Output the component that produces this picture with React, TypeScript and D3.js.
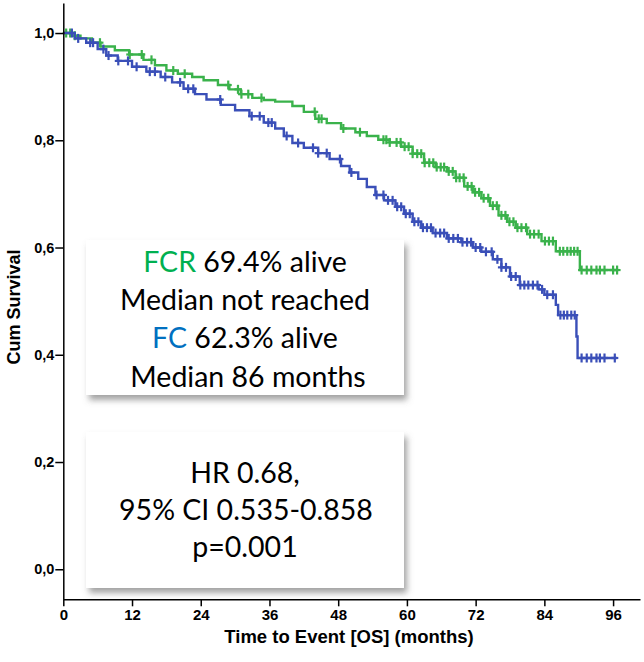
import { useEffect, useRef } from 'react'
import * as d3 from 'd3'

// Kaplan-Meier steps: time (months) -> survival after that time
const fcrTimes = [0, 1.5, 3, 5, 6.5, 9, 11.5, 14, 16, 18, 20, 22.5, 24.5, 27, 29, 31, 33, 35, 37, 40, 42, 44, 46, 48.5, 51, 53, 55, 57, 59, 61, 63, 65, 67, 68.5, 70, 71.5, 73, 74.5, 76, 77.5, 79, 81, 83.5, 86, 90.2]
const fcrSurv = [1.0, 0.995, 0.99, 0.982, 0.975, 0.968, 0.96, 0.95, 0.94, 0.93, 0.924, 0.918, 0.912, 0.903, 0.895, 0.886, 0.879, 0.875, 0.872, 0.864, 0.853, 0.84, 0.832, 0.822, 0.815, 0.808, 0.801, 0.796, 0.788, 0.775, 0.758, 0.75, 0.742, 0.73, 0.714, 0.703, 0.692, 0.678, 0.66, 0.648, 0.637, 0.625, 0.612, 0.593, 0.558]
const fcrEnd = 96.9
const fcrCensor = [0.5, 1.2, 2.0, 6.4, 11.6, 13.7, 15.4, 19.2, 21.2, 28.8, 30.5, 31.1, 32.3, 34.6, 43.9, 44.6, 45.1, 48.9, 51.8, 55.9, 56.4, 57.0, 58.2, 58.9, 59.6, 60.3, 61.0, 61.8, 62.5, 63.1, 63.9, 64.6, 65.2, 65.9, 66.5, 67.3, 68.0, 68.6, 69.2, 69.9, 70.6, 71.3, 71.9, 72.6, 73.4, 74.2, 75.0, 75.7, 76.5, 77.2, 77.9, 78.6, 79.3, 80.0, 80.8, 81.5, 82.2, 83.0, 84.1, 84.8, 85.5, 86.7, 87.3, 88.0, 88.6, 89.2, 89.8, 90.5, 91.4, 92.2, 93.1, 93.7, 94.5, 96.0, 96.7]

const fcTimes = [0, 2, 4, 6, 7.5, 9.5, 12, 14.5, 17, 19, 21, 23, 25, 27.5, 30, 32.5, 35, 37, 38.5, 40, 42, 44.5, 46.5, 48.5, 50, 51.5, 53, 54.5, 56, 58, 59.5, 61, 62.5, 64.5, 67, 69.5, 71.5, 73, 75, 76.5, 78, 79.7, 83, 84, 86, 86.4, 89.6, 89.8]
const fcSurv = [1.0, 0.99, 0.982, 0.97, 0.958, 0.948, 0.937, 0.928, 0.918, 0.908, 0.896, 0.886, 0.876, 0.866, 0.856, 0.845, 0.833, 0.822, 0.808, 0.795, 0.786, 0.776, 0.765, 0.752, 0.74, 0.728, 0.713, 0.698, 0.688, 0.676, 0.663, 0.648, 0.637, 0.627, 0.617, 0.61, 0.6, 0.592, 0.578, 0.563, 0.546, 0.53, 0.522, 0.512, 0.493, 0.474, 0.434, 0.394]
const fcEnd = 96.6
const fcCensor = [1.5, 2.6, 4.7, 5.2, 7.0, 7.9, 9.6, 11.3, 12.8, 15.1, 16.0, 17.8, 20.4, 21.8, 22.7, 27.4, 32.9, 34.3, 35.8, 36.4, 39.0, 41.0, 43.6, 44.5, 46.0, 48.3, 50.3, 54.7, 55.9, 56.7, 57.5, 58.3, 59.0, 59.8, 60.5, 61.3, 62.0, 62.8, 63.5, 64.2, 65.0, 65.8, 66.5, 67.3, 68.1, 68.9, 69.7, 70.5, 71.2, 72.0, 72.8, 73.8, 74.8, 75.8, 76.5, 77.3, 78.2, 79.0, 79.8, 80.5, 81.2, 82.0, 82.8, 83.6, 84.5, 85.5, 86.8, 87.4, 88.0, 88.7, 89.3, 90.5, 91.4, 92.2, 93.1, 93.7, 94.5, 96.3]

const xTicks = [0, 12, 24, 36, 48, 60, 72, 84, 96]
const yTicks = [0, 0.2, 0.4, 0.6, 0.8, 1.0]

const GREEN = '#3ab24b'
const BLUE = '#3a4fb8'

export default function App() {
  const ref = useRef<SVGSVGElement>(null)

  useEffect(() => {
    if (!ref.current) return
    const svg = d3.select(ref.current)
    svg.selectAll('*').remove()

    const x = d3.scaleLinear().domain([0, 100.7]).range([63.3, 640])
    const y = d3.scaleLinear().domain([-0.056, 1.056]).range([599.3, 3])

    // shadow for the text boxes
    const defs = svg.append('defs')
    const f = defs.append('filter').attr('id', 'shadow')
      .attr('x', '-10%').attr('y', '-10%').attr('width', '125%').attr('height', '130%')
    f.append('feDropShadow')
      .attr('dx', 3).attr('dy', 5).attr('stdDeviation', 3)
      .attr('flood-color', '#666').attr('flood-opacity', 0.6)

    const step = (times: number[], surv: number[], t: number) => {
      let i = 0
      while (i + 1 < times.length && times[i + 1] <= t) i++
      return surv[i]
    }

    const line = d3.line<[number, number]>()
      .x(d => x(d[0]))
      .y(d => y(d[1]))
      .curve(d3.curveStepAfter)

    const drawCurve = (times: number[], surv: number[], end: number, censor: number[], color: string) => {
      const pts: [number, number][] = times.map((t, i) => [t, surv[i]] as [number, number])
      pts.push([end, surv[surv.length - 1]])
      svg.append('path')
        .attr('d', line(pts) as string)
        .attr('fill', 'none')
        .attr('stroke', color)
        .attr('stroke-width', 2.4)

      const g = svg.append('g').attr('stroke', color).attr('stroke-width', 2.2)
      censor.forEach(t => {
        const cx = x(t)
        const cy = y(step(times, surv, t))
        g.append('line').attr('x1', cx).attr('x2', cx).attr('y1', cy - 4.5).attr('y2', cy + 4.5)
        g.append('line').attr('x1', cx - 3.5).attr('x2', cx + 3.5).attr('y1', cy).attr('y2', cy)
      })
    }

    drawCurve(fcrTimes, fcrSurv, fcrEnd, fcrCensor, GREEN)
    drawCurve(fcTimes, fcSurv, fcEnd, fcCensor, BLUE)

    // axes
    const axisFont = '"Liberation Sans", Arial, sans-serif'
    const yAxis = svg.append('g').attr('transform', `translate(${x(0)},0)`)
      .call(d3.axisLeft(y).tickValues(yTicks).tickSize(8).tickSizeOuter(0)
        .tickFormat(d => d3.format('.1f')(d as number).replace('.', ',')))
    yAxis.select('.domain').attr('stroke', '#000').attr('stroke-width', 1.5)
    yAxis.selectAll('line').attr('stroke', '#000').attr('stroke-width', 1.5)
    yAxis.selectAll('text').attr('font-family', axisFont).attr('font-size', 14.5)
      .attr('font-weight', 'bold').attr('fill', '#000').attr('x', -9)

    const xAxis = svg.append('g').attr('transform', `translate(0,${y(-0.056)})`)
      .call(d3.axisBottom(x).tickValues(xTicks).tickSize(7).tickSizeOuter(0))
    xAxis.select('.domain').attr('stroke', '#000').attr('stroke-width', 1.5)
    xAxis.selectAll('line').attr('stroke', '#000').attr('stroke-width', 1.5)
    xAxis.selectAll('text').attr('font-family', axisFont).attr('font-size', 15)
      .attr('font-weight', 'bold').attr('fill', '#000').attr('y', 10)

    svg.append('text')
      .attr('x', 349).attr('y', 643)
      .attr('text-anchor', 'middle')
      .attr('font-family', axisFont).attr('font-size', 18.5).attr('font-weight', 'bold')
      .text('Time to Event [OS] (months)')

    svg.append('text')
      .attr('transform', 'translate(20,307) rotate(-90)')
      .attr('text-anchor', 'middle')
      .attr('font-family', axisFont).attr('font-size', 18).attr('font-weight', 'bold')
      .text('Cum Survival')

    // text boxes
    const boxFont = 'Lato, "Open Sans", sans-serif'
    const box = (top: number, bottom: number) => {
      svg.append('rect')
        .attr('x', 86).attr('y', top).attr('width', 318).attr('height', bottom - top)
        .attr('fill', '#fff').attr('filter', 'url(#shadow)')
    }
    box(240, 395)
    box(432, 588)

    const addLine = (yy: number, parts: [string, string][], cx = 245) => {
      const t = svg.append('text')
        .attr('x', cx).attr('y', yy).attr('text-anchor', 'middle')
        .attr('font-family', boxFont).attr('font-size', 28.5).attr('fill', '#000')
      parts.forEach(([s, c]) => t.append('tspan').attr('fill', c).text(s))
    }
    addLine(272, [['FCR', '#00b050'], [' 69.4% alive', '#000']])
    addLine(310, [['Median not reached', '#000']])
    addLine(348, [['FC', '#0070c0'], [' 62.3% alive', '#000']])
    addLine(387, [['Median 86 months', '#000']], 248)

    addLine(483, [['HR 0.68,', '#000']])
    addLine(520, [['95% CI 0.535-0.858', '#000']], 246)
    addLine(557, [['p=0.001', '#000']])
  }, [])

  return (
    <svg ref={ref} width={644} height={662}
      style={{ position: 'absolute', left: 0, top: 0, background: '#fff' }} />
  )
}
